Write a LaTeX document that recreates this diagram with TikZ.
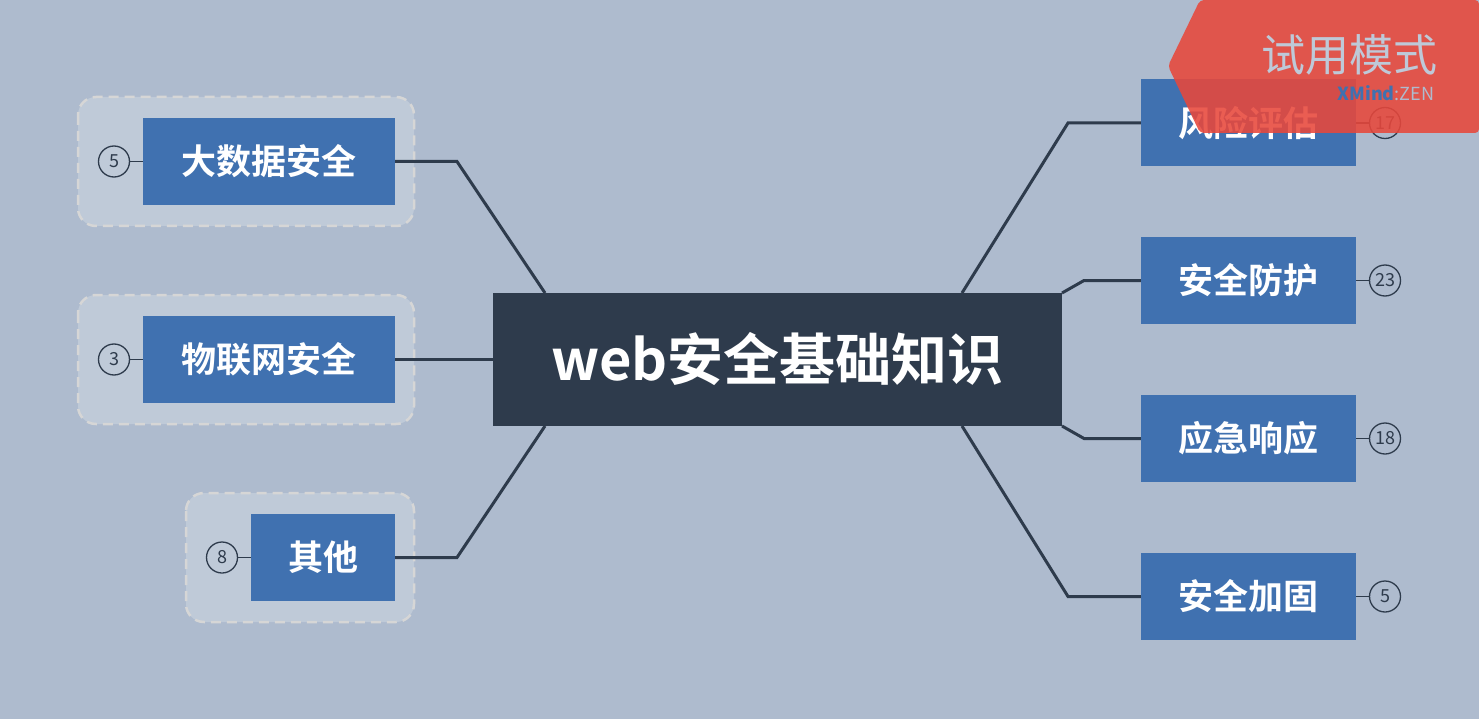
\documentclass[tikz,border=0pt]{standalone}
\usepackage{fontspec}
\setmainfont{Noto Sans CJK SC}
\newfontfamily\cjkb{Noto Sans CJK SC}[BoldFont={* Bold}]
\begin{document}
\begin{tikzpicture}[x=1pt,y=-1pt,
  conn/.style={draw=cline,line width=3pt},
  topic/.style={fill=tblue,text=white,font=\cjkb\bfseries\fontsize{35}{35}\selectfont,minimum height=87pt,inner sep=0pt},
  cnt/.style={circle,draw=cline,line width=1.3pt,minimum size=31pt,inner sep=0pt,font=\fontsize{18}{18}\selectfont,text=cline},
  grp/.style={fill=gfill,draw=gline,dashed,dash pattern=on 10pt off 6pt,line width=2.5pt,rounded corners=18pt}]
\definecolor{bg}{HTML}{AEBBCE}
\definecolor{cline}{HTML}{2E3B4C}
\definecolor{tblue}{HTML}{4071B0}
\definecolor{gfill}{HTML}{BFCAD8}
\definecolor{gline}{HTML}{D6D6D6}
\definecolor{wm}{HTML}{E8473B}
\fill[bg] (0,0) rectangle (1479,719);
\useasboundingbox (0,0) rectangle (1479,719);
% groups
\draw[grp] (78,97) rectangle (414,226);
\draw[grp] (78,295) rectangle (414,424);
\draw[grp] (186,493) rectangle (414,622);
% central
\node[fill=cline,text=white,minimum width=569pt,minimum height=133pt,inner sep=0pt,font=\cjkb\bfseries\fontsize{56}{56}\selectfont] (c) at (777.5,359.5) {web安全基础知识};
% left
\node[topic,minimum width=252pt] (l1) at (269,161.5) {大数据安全};
\node[topic,minimum width=252pt] (l2) at (269,359.5) {物联网安全};
\node[topic,minimum width=144pt] (l3) at (323,557.5) {其他};
\node[cnt] (n1) at (114,161.5) {5};
\node[cnt] (n2) at (114,359.5) {3};
\node[cnt] (n3) at (222,557.5) {8};
% right
\node[topic,minimum width=215pt] (r1) at (1248.5,123) {风险评估};
\node[topic,minimum width=215pt] (r2) at (1248.5,280.5) {安全防护};
\node[topic,minimum width=215pt] (r3) at (1248.5,438.5) {应急响应};
\node[topic,minimum width=215pt] (r4) at (1248.5,596.5) {安全加固};
\node[cnt] (m1) at (1385,123) {17};
\node[cnt] (m2) at (1385,280.5) {23};
\node[cnt] (m3) at (1385,438.5) {18};
\node[cnt] (m4) at (1385,596.5) {5};
% connectors
\draw[conn] (545,293) -- (457,161.5) -- (l1.east);
\draw[conn] (c.west) -- (l2.east);
\draw[conn] (545,426) -- (457,557.5) -- (l3.east);
\draw[conn] (962,293) -- (1068,123) -- (r1.west);
\draw[conn] (1062,293) -- (1084,280.5) -- (r2.west);
\draw[conn] (1062,426) -- (1084,438.5) -- (r3.west);
\draw[conn] (962,426) -- (1068,596.5) -- (r4.west);
\foreach \a/\b in {l1/n1,l2/n2,l3/n3,r1/m1,r2/m2,r3/m3,r4/m4}
  \draw[cline,line width=1.3pt] (\a) -- (\b);
% watermark
\fill[wm,opacity=0.88,rounded corners=4pt] (1200,0) -- (1479,0) -- (1479,133) -- (1200,133) -- (1168,66) -- cycle;
\node[text=bg!80!white,font=\fontsize{44}{44}\selectfont] (w1) at (1349,55) {试用模式};
\node[font=\fontsize{18}{18}\selectfont,text=bg] (w2) at (1386,93) {\textbf{\color{tblue}XMind}:ZEN};
\end{tikzpicture}
\end{document}
